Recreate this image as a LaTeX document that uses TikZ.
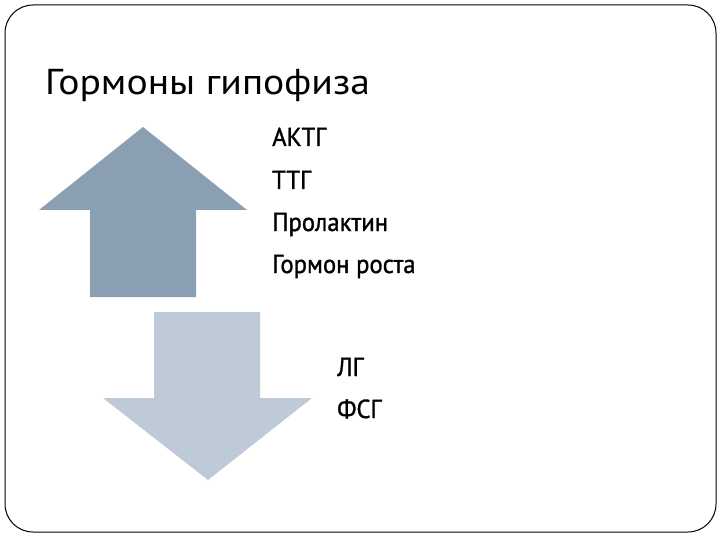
\documentclass[tikz,border=0pt]{standalone}
\usepackage{fontspec}
\setmainfont{PT Sans}
\newfontfamily\titlefont[FakeStretch=1.1]{PT Sans}
\newfontfamily\listfont[FakeStretch=0.95,FakeBold=1.2]{PT Sans}
\usepackage{tikz}
\usetikzlibrary{positioning}
\definecolor{upblue}{RGB}{139, 159, 178}
\definecolor{downblue}{RGB}{190, 202, 215}

\begin{document}
\begin{tikzpicture}[x=1pt, y=-1pt,
    item/.style={anchor=base west, inner sep=0pt, font=\listfont\fontsize{26}{30}\selectfont},
    upshape/.style={fill=upblue, draw=none},
    downshape/.style={fill=downblue, draw=none}]
    \useasboundingbox (0,0) rectangle (720,540);
    \draw[line width=1pt, rounded corners=28pt] (5,5) rectangle (716,532);

    \node[anchor=base west, inner sep=0pt, font=\titlefont\fontsize{36}{42}\selectfont] (title) at (45,95) {Гормоны гипофиза};

    % up arrow
    \fill[upshape] (143,127) -- (247,210) -- (196,210) -- (196,297) -- (90,297) -- (90,210) -- (39,210) -- cycle;
    % down arrow
    \fill[downshape] (154,312) -- (260,312) -- (260,398) -- (312,398) -- (208,480) -- (103,398) -- (154,398) -- cycle;

    \node[item] (acth) at (272,146) {АКТГ};
    \node[item] (tsh) at (272,189) {ТТГ};
    \node[item] (prl) at (272,231) {Пролактин};
    \node[item] (gh) at (272,273) {Гормон роста};

    \node[item] (lh) at (337,376) {ЛГ};
    \node[item] (fsh) at (337,418) {ФСГ};
  \end{tikzpicture}
\end{document}
